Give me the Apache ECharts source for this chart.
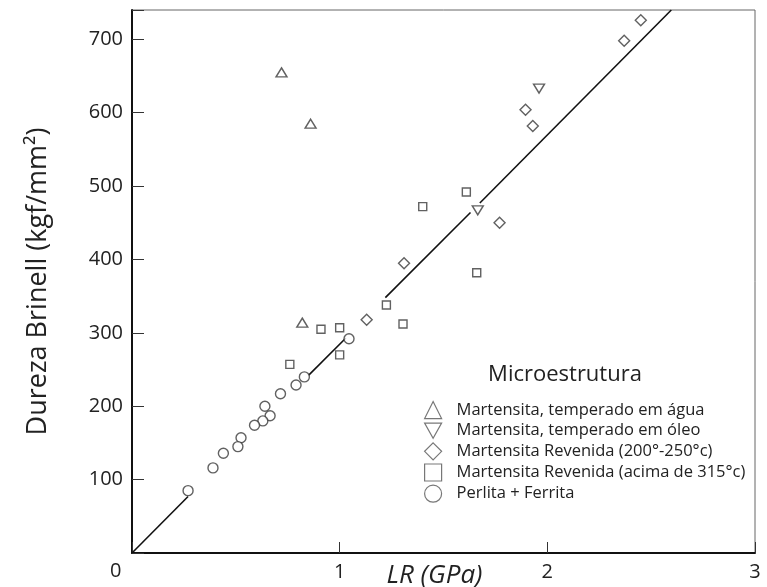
<!DOCTYPE html>
<html>
<head>
<meta charset="utf-8">
<script src="https://cdn.jsdelivr.net/npm/echarts@6/dist/echarts.min.js"></script>
<style>
  html, body { margin: 0; padding: 0; background: #fff; }
  #main { width: 767px; height: 587px; }
</style>
</head>
<body>
<div id="main"></div>
<script>
// pontos: [LR (GPa), Dureza Brinell]
var agua = [[0.72, 655], [0.86, 585], [0.82, 314]];
var oleo = [[1.96, 633], [1.665, 467]];
var revenida200 = [[2.45, 726], [2.37, 698], [1.895, 604], [1.93, 582], [1.77, 450], [1.31, 395], [1.13, 318]];
var revenida315 = [[1.40, 472], [1.61, 492], [1.66, 382], [1.225, 338], [1.305, 312], [0.91, 305], [1.0, 307], [1.0, 270], [0.76, 257]];
var perlita = [[1.045, 292], [0.83, 240], [0.79, 229], [0.715, 217], [0.64, 200], [0.665, 187], [0.63, 180],
               [0.59, 174], [0.525, 157], [0.51, 145], [0.44, 136], [0.39, 116], [0.27, 85]];
// reta de ajuste, desenhada em trechos (interrompida atrás dos pontos)
var retaTrechos = [
  [[0, 0], [0.27, 77]],
  [[0.85, 242], [1.03, 293]],
  [[1.22, 348], [1.63, 464]],
  [[1.675, 477], [2.597, 740]]
];
var nomes = [
  'Martensita, temperado em água',
  'Martensita, temperado em óleo',
  'Martensita Revenida (200°-250°c)',
  'Martensita Revenida (acima de 315°c)',
  'Perlita + Ferrita'
];

var fonte = '"Open Sans", sans-serif';
var marcador = { color: '#fff', borderColor: '#3a3a3a', borderWidth: 1.4 };
var trianguloInv = 'path://M0,0 L10,0 L5,9 Z';

var myChart = echarts.init(document.getElementById('main'));

var series = retaTrechos.map(function (t) {
  return {
    type: 'line',
    data: t,
    symbol: 'none',
    silent: true,
    z: 1,
    lineStyle: { color: '#111', width: 1.6 }
  };
});
series.push(
  { name: nomes[0], type: 'scatter', data: agua, symbol: 'triangle', symbolSize: [11, 9], itemStyle: marcador, z: 3 },
  { name: nomes[1], type: 'scatter', data: oleo, symbol: trianguloInv, symbolSize: [11, 9], itemStyle: marcador, z: 3 },
  { name: nomes[2], type: 'scatter', data: revenida200, symbol: 'diamond', symbolSize: 11, itemStyle: marcador, z: 3 },
  { name: nomes[3], type: 'scatter', data: revenida315, symbol: 'rect', symbolSize: 8, itemStyle: marcador, z: 3 },
  { name: nomes[4], type: 'scatter', data: perlita, symbol: 'circle', symbolSize: 10, itemStyle: marcador, z: 3 }
);

var option = {
  animation: false,
  textStyle: { fontFamily: fonte },
  grid: {
    left: 132, right: 12, top: 10, bottom: 34,
    outerBoundsMode: 'none',
    containLabel: false,
    show: true, borderColor: '#666', borderWidth: 1
  },
  title: {
    text: 'Microestrutura',
    left: 560, top: 359,
    textAlign: 'center',
    textStyle: { fontFamily: fonte, fontSize: 22, fontWeight: 'normal', color: '#222' }
  },
  legend: {
    data: nomes,
    orient: 'vertical',
    left: 419, top: 396,
    itemWidth: 17, itemHeight: 17, itemGap: 3,
    textStyle: { fontFamily: fonte, fontSize: 16.5, color: '#222', padding: [0, 0, 0, 10] },
    itemStyle: { color: '#fff', borderColor: '#555', borderWidth: 1.2 }
  },
  xAxis: {
    type: 'value',
    min: 0, max: 3, interval: 1,
    name: 'LR (GPa)',
    nameLocation: 'middle',
    nameGap: 10,
    nameMoveOverlap: false,
    nameTextStyle: { fontFamily: fonte, fontSize: 26, fontStyle: 'italic', color: '#222', padding: [0, 18, 0, 0] },
    axisLine: { lineStyle: { color: '#111', width: 2 } },
    axisTick: { inside: true, length: 11, lineStyle: { color: '#333', width: 1 } },
    axisLabel: {
      margin: 9, fontSize: 20, color: '#222',
      formatter: function (v) { return v === 0 ? '' : v; }
    },
    splitLine: { show: false }
  },
  yAxis: {
    type: 'value',
    min: 0, max: 740, interval: 100,
    name: 'Dureza Brinell (kgf/mm²)',
    nameLocation: 'middle',
    nameGap: 80,
    nameMoveOverlap: false,
    nameTextStyle: { fontFamily: fonte, fontSize: 27, color: '#222' },
    axisLine: { lineStyle: { color: '#111', width: 2 } },
    axisTick: { inside: true, length: 12, lineStyle: { color: '#333', width: 1 } },
    axisLabel: {
      margin: 9, fontSize: 20, color: '#222',
      formatter: function (v) { return (v === 0 || v % 100 !== 0) ? '' : v; }
    },
    splitLine: { show: false }
  },
  graphic: [{
    type: 'text',
    left: 110, top: 561,
    style: { text: '0', font: '20px "Open Sans", sans-serif', fill: '#222' }
  }],
  series: series
};

myChart.setOption(option);
</script>
</body>
</html>
